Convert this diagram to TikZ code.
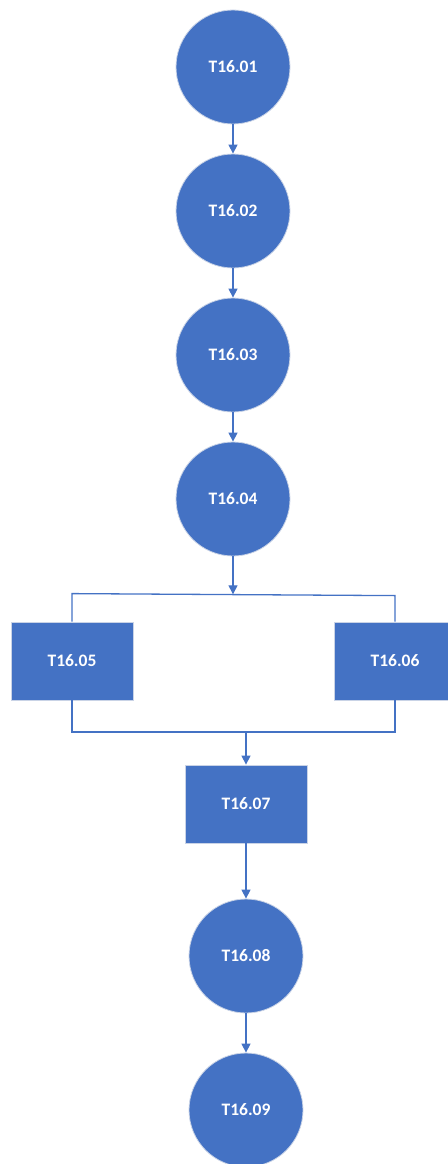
\documentclass[tikz,border=0pt]{standalone}
\usepackage{fontspec}
\setmainfont{Carlito}
\usetikzlibrary{arrows.meta}
\definecolor{nodeblue}{HTML}{4472C4}
\definecolor{edgegray}{HTML}{C9D3E6}
\tikzset{
  circnode/.style={circle, fill=nodeblue, draw=edgegray, line width=0.8pt, minimum size=114pt, inner sep=0pt, text=white, font=\fontsize{17.5}{20}\selectfont\bfseries},
  boxnode/.style={rectangle, fill=nodeblue, draw=edgegray, line width=0.8pt, minimum width=122pt, minimum height=78pt, inner sep=0pt, text=white, font=\fontsize{17.5}{20}\selectfont\bfseries},
  conn/.style={draw=nodeblue, line width=1.3pt},
  arr/.style={conn, -{Triangle[length=9pt,width=9pt]}}
}
\begin{document}
\begin{tikzpicture}[x=1pt,y=-1pt]
\useasboundingbox (0,0) rectangle (447,1164);
\node[circnode] (T1) at (233,67) {T16.01};
\node[circnode] (T2) at (233,211) {T16.02};
\node[circnode] (T3) at (233,355) {T16.03};
\node[circnode] (T4) at (233,499) {T16.04};
\node[boxnode] (T5) at (72,661) {T16.05};
\node[boxnode] (T6) at (395,661) {T16.06};
\node[boxnode] (T7) at (246,804) {T16.07};
\node[circnode] (T8) at (246,956) {T16.08};
\node[circnode] (T9) at (246,1110) {T16.09};
\coordinate (jt) at (233,594.3);
\coordinate (jtl) at (72,593.6);
\coordinate (jtr) at (395,595.6);
\coordinate (jb) at (246,732);
\coordinate (jbl) at (72,732);
\coordinate (jbr) at (395,732);
\draw[arr] (T1) -- (T2);
\draw[arr] (T2) -- (T3);
\draw[arr] (T3) -- (T4);
\draw[arr] (T4) -- (jt);
\draw[conn] (T5.north) -- (jtl) -- (jtr) -- (T6.north);
\draw[conn] (T5.south) -- (jbl) -- (jbr) -- (T6.south);
\draw[arr] (jb) -- (T7);
\draw[arr] (T7) -- (T8);
\draw[arr] (T8) -- (T9);
\end{tikzpicture}
\end{document}
